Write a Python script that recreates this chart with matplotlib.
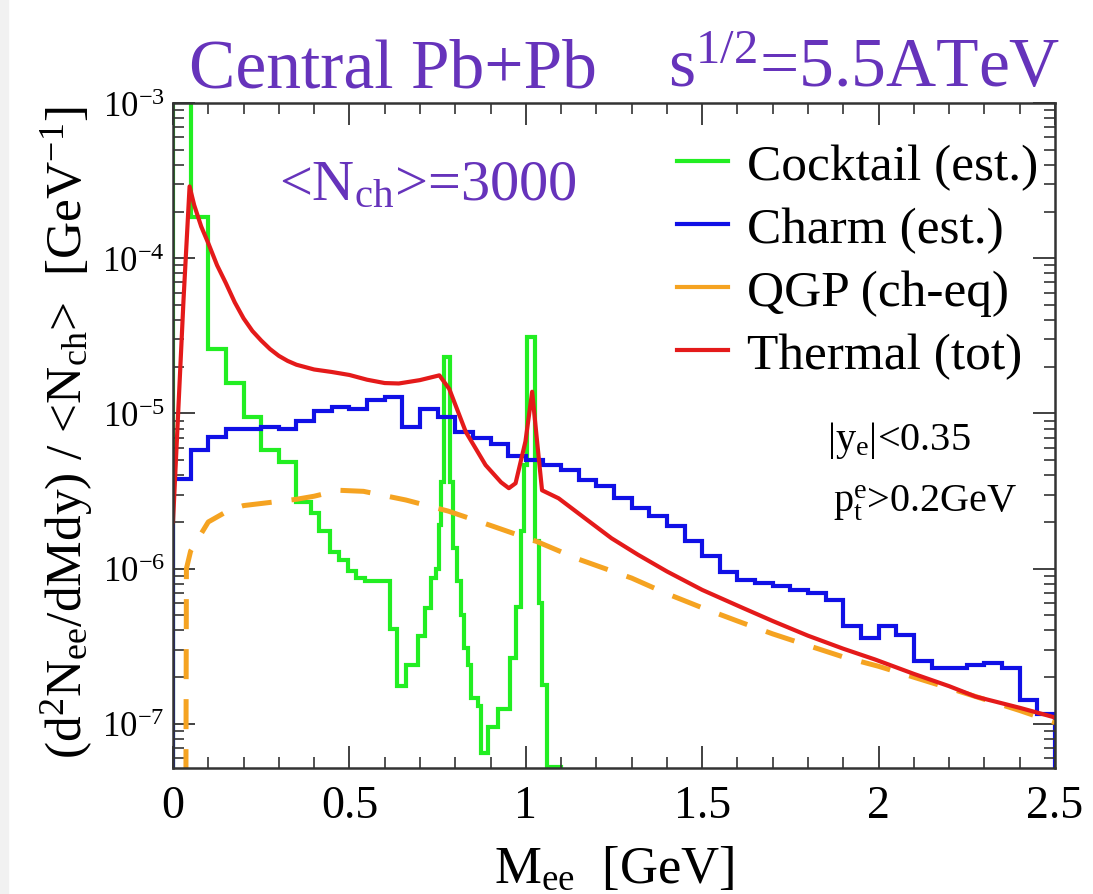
import matplotlib
matplotlib.use('Agg')
import matplotlib.pyplot as plt
import numpy as np
from matplotlib.lines import Line2D
from matplotlib.patches import Rectangle
from matplotlib.ticker import LogLocator, MultipleLocator, FuncFormatter, NullFormatter

plt.rcParams['font.family'] = ['Liberation Serif', 'DejaVu Serif']
plt.rcParams['mathtext.fontset'] = 'custom'
plt.rcParams['mathtext.rm'] = 'Liberation Serif'
plt.rcParams['mathtext.it'] = 'Liberation Serif:italic'
plt.rcParams['mathtext.default'] = 'rm'

# --- data ---
# charm (est.): histogram, 0.05 GeV bins
charm_edges = np.linspace(0.0, 2.5, 51)
charm_vals = [3.8e-6, 5.8e-6, 7.1e-6, 7.9e-6, 8.0e-6, 8.2e-6, 8.0e-6, 8.9e-6, 1.03e-5, 1.1e-5,
              1.07e-5, 1.22e-5, 1.28e-5, 8.2e-6, 1.07e-5, 9.5e-6, 7.6e-6, 6.9e-6, 6.4e-6, 5.3e-6,
              5.0e-6, 4.66e-6, 4.3e-6, 3.7e-6, 3.4e-6, 2.85e-6, 2.45e-6, 2.17e-6, 1.88e-6, 1.5e-6,
              1.2e-6, 9.5e-7, 8.4e-7, 8.1e-7, 7.7e-7, 7.3e-7, 7.0e-7, 6.3e-7, 4.25e-7, 3.57e-7,
              4.25e-7, 3.76e-7, 2.53e-7, 2.29e-7, 2.29e-7, 2.41e-7, 2.47e-7, 2.29e-7, 1.43e-7, 1.15e-7]

# cocktail (est.): histogram with uneven bins
cocktail_edges = [0, 0.05, 0.1, 0.15, 0.2, 0.25, 0.3, 0.35, 0.39, 0.415, 0.445, 0.47, 0.495,
                  0.52, 0.545, 0.615, 0.635, 0.66, 0.695, 0.715, 0.73, 0.745, 0.755, 0.76,
                  0.768, 0.785, 0.795, 0.805, 0.815, 0.825, 0.835, 0.845, 0.865, 0.872, 0.893,
                  0.92, 0.955, 0.973, 0.985, 0.995, 1.003, 1.027, 1.037, 1.045, 1.06, 1.1]
cocktail_vals = [5e-3, 1.85e-4, 2.6e-5, 1.56e-5, 9.5e-6, 5.8e-6, 4.9e-6, 2.7e-6, 2.27e-6,
                 1.74e-6, 1.29e-6, 1.14e-6, 9.6e-7, 8.7e-7, 8.3e-7, 4.1e-7, 1.75e-7, 2.4e-7,
                 3.66e-7, 5.57e-7, 8.7e-7, 1.0e-6, 1.9e-6, 3.64e-6, 2.3e-5, 3.64e-6, 1.36e-6,
                 8.3e-7, 5.0e-7, 3.1e-7, 2.4e-7, 1.47e-7, 1.3e-7, 6.5e-8, 9.5e-8, 1.25e-7,
                 2.65e-7, 5.7e-7, 1.74e-6, 4.65e-6, 3.1e-5, 1.5e-6, 6e-7, 1.79e-7, 5.25e-8]

# QGP (ch-eq)
qgp_m = [0.036, 0.038, 0.05, 0.1, 0.16, 0.2, 0.28, 0.35, 0.4, 0.47, 0.54, 0.66, 0.78, 0.9,
         1.03, 1.15, 1.3, 1.4, 1.5, 1.6, 1.7, 1.8, 1.9, 2.0, 2.2, 2.4, 2.5]
qgp_y = [1e-8, 1.0e-6, 1.3e-6, 2.0e-6, 2.39e-6, 2.55e-6, 2.68e-6, 2.8e-6, 2.93e-6, 3.2e-6,
         3.15e-6, 2.77e-6, 2.35e-6, 1.9e-6, 1.5e-6, 1.15e-6, 8.7e-7, 6.9e-7, 5.6e-7, 4.6e-7,
         3.8e-7, 3.2e-7, 2.7e-7, 2.35e-7, 1.7e-7, 1.22e-7, 1.02e-7]

# Thermal (tot)
therm_m = [0.0, 0.015, 0.03, 0.047, 0.06, 0.08, 0.1, 0.125, 0.15, 0.175, 0.2, 0.225, 0.25,
           0.275, 0.3, 0.325, 0.35, 0.4, 0.45, 0.5, 0.55, 0.6, 0.64, 0.7, 0.755, 0.783, 0.83,
           0.886, 0.93, 0.952, 0.971, 0.999, 1.018, 1.032, 1.046, 1.093, 1.168, 1.243, 1.318,
           1.4, 1.5, 1.614, 1.7, 1.8, 1.9, 1.99, 2.1, 2.2, 2.275, 2.4, 2.5]
therm_y = [2.0e-6, 1.05e-5, 5.5e-5, 2.9e-4, 2.2e-4, 1.6e-4, 1.25e-4, 9e-5, 6.9e-5, 5.2e-5,
           4.1e-5, 3.4e-5, 2.95e-5, 2.6e-5, 2.35e-5, 2.18e-5, 2.06e-5, 1.92e-5, 1.85e-5,
           1.77e-5, 1.65e-5, 1.57e-5, 1.56e-5, 1.64e-5, 1.76e-5, 1.44e-5, 7.6e-6, 4.65e-6,
           3.6e-6, 3.3e-6, 3.55e-6, 6.6e-6, 1.38e-5, 6.6e-6, 3.2e-6, 2.84e-6, 2.11e-6, 1.57e-6,
           1.23e-6, 9.6e-7, 7.3e-7, 5.6e-7, 4.6e-7, 3.7e-7, 3.05e-7, 2.6e-7, 2.1e-7, 1.75e-7,
           1.5e-7, 1.27e-7, 1.1e-7]

purple = '#6633bb'
c_green = '#22ee22'
c_blue = '#1010e6'
c_orange = '#f5a321'
c_red = '#e41a1a'

fig = plt.figure(figsize=(10.93, 8.95), dpi=100)
fig.add_artist(Rectangle((0, 0), 8 / 1093, 1, transform=fig.transFigure,
                         color='#f1f1f1', zorder=0))
ax = fig.add_axes([173 / 1093, 1 - 769 / 895, (1055 - 173) / 1093, (769 - 104) / 895])

ax.stairs(cocktail_vals, cocktail_edges, baseline=1e-10, color=c_green, lw=3)
ax.stairs(charm_vals, charm_edges, baseline=1e-10, color=c_blue, lw=3)
ax.plot(qgp_m, qgp_y, color=c_orange, lw=3.6, dashes=(6, 4))
ax.plot(therm_m, therm_y, color=c_red, lw=3)

ax.set_yscale('log')
ax.set_xlim(0, 2.5)
ax.set_ylim(5.2e-8, 1e-3)

ax.xaxis.set_major_locator(MultipleLocator(0.5))
ax.xaxis.set_minor_locator(MultipleLocator(0.1))
ax.xaxis.set_major_formatter(FuncFormatter(lambda v, p: '%g' % v))
ax.yaxis.set_major_locator(LogLocator(base=10, numticks=20))
ax.yaxis.set_minor_locator(LogLocator(base=10, subs=np.arange(2, 10), numticks=20))
ax.yaxis.set_minor_formatter(NullFormatter())
ax.yaxis.set_major_formatter(FuncFormatter(lambda v, p: r'$10^{%d}$' % int(round(np.log10(v)))))

ax.tick_params(which='both', direction='in', top=True, right=True, color='#333333')
ax.tick_params(which='major', length=16, width=1.3)
ax.tick_params(which='minor', length=8, width=1.2)
ax.tick_params(axis='x', labelsize=33, pad=12)
ax.tick_params(axis='y', labelsize=25, pad=6)
for s in ax.spines.values():
    s.set_linewidth(1.8)
    s.set_color('#333333')

ax.set_xlabel(r'M$_{ee}$  [GeV]', fontsize=38)
ax.xaxis.set_label_coords(0.5, -0.115)
ax.set_ylabel(r'(d$^2$N$_{ee}$/dMdy) / <N$_{ch}$>  [GeV$^{-1}$]', fontsize=37)
ax.yaxis.set_label_coords(-0.088, 0.505)

fig.text(189 / 1093, 1 - 87 / 895, 'Central Pb+Pb', fontsize=50, color=purple,
         va='baseline', ha='left')
fig.text(668 / 1093, 1 - 87 / 895, r's$^{1/2}$=5.5ATeV', fontsize=50, color=purple,
         va='baseline', ha='left')
fig.text(279 / 1093, 1 - 200 / 895, r'<N$_{ch}$>=3000', fontsize=42, color=purple,
         va='baseline', ha='left')
fig.text(827 / 1093, 1 - 450 / 895, r'|y$_e$|<0.35', fontsize=29, va='baseline', ha='left')
fig.text(833 / 1093, 1 - 512 / 895, r'p$_t^e$>0.2GeV', fontsize=29, va='baseline', ha='left')

handles = [Line2D([], [], color=c_green, lw=3),
           Line2D([], [], color=c_blue, lw=3),
           Line2D([], [], color=c_orange, lw=3),
           Line2D([], [], color=c_red, lw=3)]
labels = ['Cocktail (est.)', 'Charm (est.)', 'QGP (ch-eq)', 'Thermal (tot)']
fig.legend(handles, labels, loc='upper left', bbox_to_anchor=(677 / 1093, 1 - 144 / 895),
           frameon=False, fontsize=37, handlelength=1.0, handletextpad=0.37,
           borderpad=0, borderaxespad=0, labelspacing=0.315)

fig.savefig('out.png', dpi=100, facecolor='white')
